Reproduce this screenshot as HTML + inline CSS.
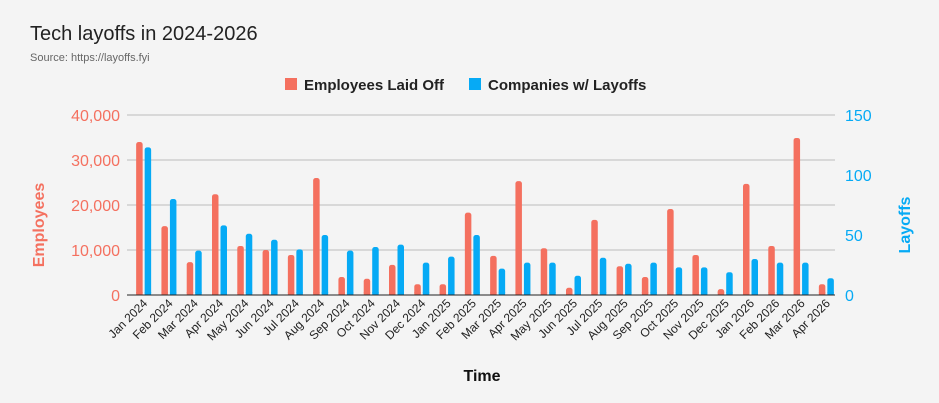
<!DOCTYPE html>
<html><head><meta charset="utf-8"><style>
html,body{margin:0;padding:0;background:#f4f4f4;}
svg{display:block;font-family:"Liberation Sans",Arial,sans-serif;}
</style></head><body>
<svg id="c" width="939" height="403" xmlns="http://www.w3.org/2000/svg">
<rect width="939" height="403" fill="#f4f4f4"/>
<text x="30" y="40" font-size="20" fill="#222">Tech layoffs in 2024-2026</text>
<text x="30" y="61" font-size="11" fill="#666">Source: https://layoffs.fyi</text>
<rect x="285" y="78" width="12" height="12" fill="#f4705f"/>
<text x="304" y="90" font-size="15" font-weight="bold" fill="#222">Employees Laid Off</text>
<rect x="469" y="78" width="12" height="12" fill="#06aaf5"/>
<text x="488" y="90" font-size="15" font-weight="bold" fill="#222">Companies w/ Layoffs</text>
<text transform="translate(44,225) rotate(-90)" text-anchor="middle" font-size="16" font-weight="bold" fill="#f4705f">Employees</text>
<text transform="translate(910,225) rotate(-90)" text-anchor="middle" font-size="16" font-weight="bold" fill="#06aaf5">Layoffs</text>
<text x="482" y="381" text-anchor="middle" font-size="16" font-weight="bold" fill="#111">Time</text>
</svg>
<script>
var ns="http://www.w3.org/2000/svg",svg=document.getElementById('c');
function el(t,a,txt){var e=document.createElementNS(ns,t);for(var k in a)e.setAttribute(k,a[k]);if(txt!==undefined)e.textContent=txt;svg.appendChild(e);return e;}
var L=127,R=835,T=115,B=295;
var lt=["0","10,000","20,000","30,000","40,000"],rt=["0","50","100","150"];
for(var i=0;i<5;i++){var y=B-i*45;if(i>0)el('line',{x1:L,x2:R,y1:y,y2:y,stroke:'#bbb','stroke-width':1});el('text',{x:120,y:y+6,'text-anchor':'end','font-size':16,fill:'#f4705f'},lt[i]);}
for(var i=0;i<4;i++){var y=B-i*60;el('text',{x:845,y:y+6,'font-size':16,fill:'#06aaf5'},rt[i]);}
var months=["Jan","Feb","Mar","Apr","May","Jun","Jul","Aug","Sep","Oct","Nov","Dec"];
var red=[34000,15300,7300,22400,10900,10000,8900,26000,4000,3600,6700,2400,2400,18300,8700,25300,10400,1600,16700,6400,4000,19100,8900,1300,24700,10900,34900,2400];
var blue=[123,80,37,58,51,46,38,50,37,40,42,27,32,50,22,27,27,16,31,26,27,23,23,19,30,27,27,14];
var w=(R-L)/28;
for(var i=0;i<28;i++){
 var c=L+w*(i+0.5)+4.5;
 var h=red[i]*180/40000;el('rect',{x:c-8,y:B-h,width:6.5,height:h,rx:2.5,fill:'#f4705f'});
 el('rect',{x:c-8,y:B-Math.min(h,3),width:6.5,height:Math.min(h,3),fill:'#f4705f'});
 var h2=blue[i]*1.2;el('rect',{x:c+0.5,y:B-h2,width:6.5,height:h2,rx:2.5,fill:'#06aaf5'});
 el('rect',{x:c+0.5,y:B-3,width:6.5,height:3,fill:'#06aaf5'});
 var lab=months[i%12]+" "+(2024+Math.floor(i/12));
 el('text',{transform:'translate('+(c+4)+',304) rotate(-45)','text-anchor':'end','font-size':12,fill:'#222'},lab);
}
el('line',{x1:L,x2:R,y1:B,y2:B,stroke:'#222','stroke-width':1});
</script>
</body></html>
